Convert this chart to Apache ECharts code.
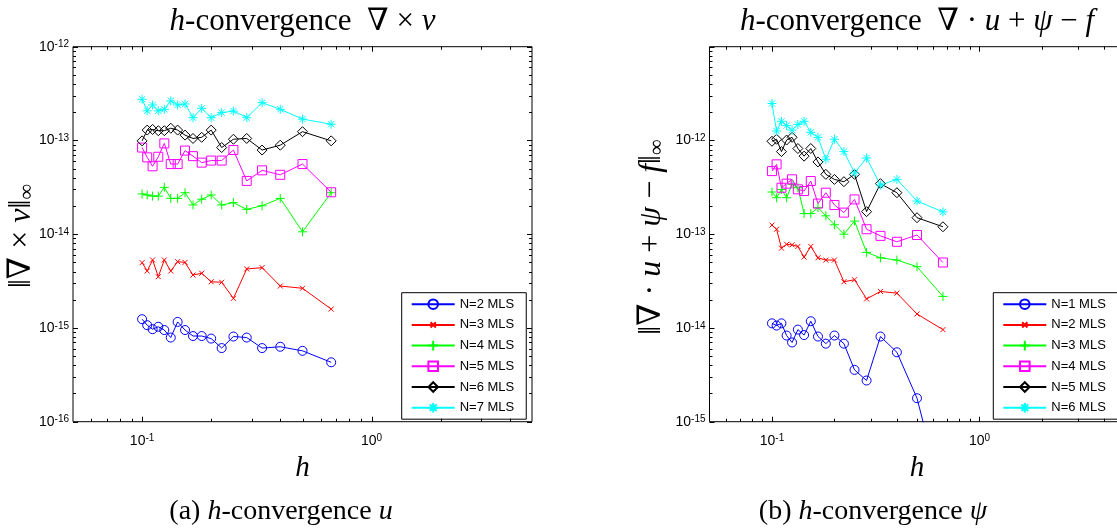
<!DOCTYPE html>
<html>
<head>
<meta charset="utf-8">
<script src="https://cdn.jsdelivr.net/npm/echarts/dist/echarts.min.js"></script>
<style>
  html, body { margin: 0; padding: 0; width: 1117px; height: 531px; overflow: hidden; background: #fff; }
  #curlPanel { position: absolute; left: 0; top: 0; width: 560px; height: 531px; }
  #divPanel  { position: absolute; left: 560px; top: 0; width: 580px; height: 531px; }
</style>
</head>
<body>
<div id="curlPanel"></div>
<div id="divPanel"></div>
<script>
// Mesh sizes h (same for every curve)
const hValues = [0.1, 0.10526, 0.11111, 0.11765, 0.125, 0.13333, 0.14286, 0.15385, 0.16667,
                 0.18182, 0.2, 0.22222, 0.25, 0.28571, 0.33333, 0.4, 0.5, 0.66667];

// (a) ||curl v||_inf for N = 2..7
const curlN2 = [1.24e-15, 1.07e-15, 9.7e-16, 1.03e-15, 9.5e-16, 7.9e-16, 1.16e-15, 9.5e-16, 8.2e-16,
                8.2e-16, 7.7e-16, 6.1e-16, 8.1e-16, 7.9e-16, 6.1e-16, 6.3e-16, 5.7e-16, 4.3e-16];
const curlN3 = [4.97e-15, 4.05e-15, 5.31e-15, 3.52e-15, 5.31e-15, 4.05e-15, 5.09e-15, 5.0e-15, 3.67e-15,
                3.83e-15, 3.11e-15, 3.07e-15, 2.07e-15, 4.26e-15, 4.40e-15, 2.80e-15, 2.65e-15, 1.59e-15];
const curlN4 = [2.69e-14, 2.62e-14, 2.55e-14, 2.55e-14, 3.16e-14, 2.41e-14, 2.41e-14, 2.77e-14, 2.05e-14,
                2.36e-14, 2.62e-14, 2.05e-14, 2.17e-14, 1.84e-14, 2.01e-14, 2.41e-14, 1.06e-14, 2.77e-14];
const curlN5 = [8.4e-14, 6.6e-14, 5.3e-14, 6.7e-14, 9.3e-14, 5.6e-14, 5.6e-14, 7.8e-14, 6.8e-14,
                5.8e-14, 6.1e-14, 6.1e-14, 7.9e-14, 3.7e-14, 4.8e-14, 4.3e-14, 5.6e-14, 2.8e-14];
const curlN6 = [9.9e-14, 1.29e-13, 1.31e-13, 1.27e-13, 1.27e-13, 1.35e-13, 1.29e-13, 1.14e-13, 1.05e-13,
                1.08e-13, 1.29e-13, 8.4e-14, 1.03e-13, 1.05e-13, 7.9e-14, 8.9e-14, 1.24e-13, 9.9e-14];
const curlN7 = [2.75e-13, 2.07e-13, 2.39e-13, 2.07e-13, 2.15e-13, 2.64e-13, 2.39e-13, 2.45e-13, 1.75e-13,
                2.20e-13, 1.75e-13, 1.98e-13, 2.06e-13, 1.75e-13, 2.53e-13, 2.15e-13, 1.69e-13, 1.49e-13];

// (b) ||div u + psi - f||_inf for N = 1..6
const divN1 = [1.12e-14, 1.06e-14, 1.12e-14, 8.3e-15, 7.0e-15, 9.6e-15, 8.4e-15, 1.18e-14, 8.1e-15,
               6.8e-15, 8.3e-15, 6.8e-15, 3.57e-15, 2.75e-15, 8.1e-15, 5.5e-15, 1.78e-15, 1.5e-16];
const divN2 = [1.25e-13, 1.13e-13, 7.1e-14, 7.8e-14, 7.7e-14, 7.4e-14, 5.7e-14, 7.4e-14, 5.6e-14,
               5.3e-14, 5.3e-14, 3.11e-14, 3.27e-14, 2.04e-14, 2.45e-14, 2.35e-14, 1.41e-14, 9.6e-15];
const divN3 = [2.82e-13, 2.45e-13, 3.0e-13, 2.45e-13, 3.4e-13, 3.13e-13, 1.66e-13, 1.66e-13, 1.92e-13,
               1.57e-13, 1.26e-13, 1.0e-13, 1.38e-13, 6.4e-14, 5.6e-14, 5.3e-14, 4.5e-14, 2.17e-14];
const divN4 = [4.71e-13, 5.56e-13, 3.13e-13, 3.46e-13, 3.85e-13, 3.01e-13, 2.89e-13, 3.69e-13, 2.12e-13,
               2.77e-13, 2.05e-13, 1.70e-13, 2.35e-13, 1.13e-13, 9.6e-14, 8.3e-14, 9.8e-14, 4.99e-14];
const divN5 = [9.8e-13, 1.03e-12, 7.6e-13, 1.01e-12, 1.08e-12, 8.2e-13, 6.8e-13, 8.2e-13, 5.9e-13,
               4.35e-13, 3.84e-13, 3.63e-13, 4.35e-13, 1.74e-13, 3.46e-13, 2.77e-13, 1.50e-13, 1.2e-13];
const divN6 = [2.48e-12, 1.26e-12, 1.60e-12, 1.44e-12, 1.29e-12, 1.48e-12, 1.60e-12, 1.22e-12, 1.08e-12,
               6.3e-13, 1.03e-12, 7.6e-13, 4.5e-13, 6.5e-13, 3.34e-13, 3.84e-13, 2.26e-13, 1.73e-13];

// Legend entries
const curlNames = ['N=2 MLS', 'N=3 MLS', 'N=4 MLS', 'N=5 MLS', 'N=6 MLS', 'N=7 MLS'];
const divNames  = ['N=1 MLS', 'N=2 MLS', 'N=3 MLS', 'N=4 MLS', 'N=5 MLS', 'N=6 MLS'];

// Axis ranges and tick positions
const xRange = [0.05, 5];
const curlYRange = [1e-16, 1e-12];
const divYRange = [1e-15, 1e-11];
const xMajorTicks = [0.1, 1];
const xMinorTicks = [0.06, 0.07, 0.08, 0.09, 0.2, 0.3, 0.4, 0.5, 0.6, 0.7, 0.8, 0.9, 2, 3, 4];

// Matlab-style line/marker specs: o, x, +, square, diamond, *
const styles = [
  { color: '#0000ff', symbol: 'circle', size: 9 },
  { color: '#ff0000', symbol: 'path://M-0.4,-0.4L-0.4,-0.4M1.4,1.4L1.4,1.4M0,0L1,1M1,0L0,1', size: 9 },
  { color: '#00ff00', symbol: 'path://M0.5,0L0.5,1M0,0.5L1,0.5', size: 9 },
  { color: '#ff00ff', symbol: 'path://M0,0L1,0L1,1L0,1Z', size: 9 },
  { color: '#000000', symbol: 'path://M0.5,0L1,0.5L0.5,1L0,0.5Z', size: 10 },
  { color: '#00ffff', symbol: 'path://M0.5,0L0.5,1M0,0.5L1,0.5M0.15,0.15L0.85,0.85M0.85,0.15L0.15,0.85', size: 9 }
];

const SANS = "'Liberation Sans', Arial, Helvetica, sans-serif";
const SERIF = "'Liberation Serif', 'DejaVu Serif', serif";

function decadeTicks(range) {
  const major = [], minor = [];
  const lo = Math.round(Math.log10(range[0])), hi = Math.round(Math.log10(range[1]));
  for (let e = lo; e <= hi; e++) {
    major.push(Math.pow(10, e));
    if (e < hi) for (let m = 2; m <= 9; m++) minor.push(m * Math.pow(10, e));
  }
  return { major, minor };
}

function powerLabel(hidden) {
  return function (v) {
    const e = Math.log10(v), r = Math.round(e);
    if (Math.abs(e - r) > 1e-6 || hidden.indexOf(r) >= 0) return '';
    return '{b|10}{s|' + r + '}';
  };
}
const powerRich = {
  b: { fontFamily: SANS, fontSize: 14, color: '#000', lineHeight: 14, padding: [7, 0, 0, 0], verticalAlign: 'bottom' },
  s: { fontFamily: SANS, fontSize: 10, color: '#000', lineHeight: 10, verticalAlign: 'top' }
};

function tickSeries(yRange) {
  const yt = decadeTicks(yRange);
  const xData = xMajorTicks.map(v => [v, yRange[0], 1]).concat(xMinorTicks.map(v => [v, yRange[0], 0]));
  const yData = yt.major.map(v => [xRange[0], v, 1]).concat(yt.minor.map(v => [xRange[0], v, 0]));
  const line = (x1, y1, x2, y2) => ({ type: 'line', shape: { x1, y1, x2, y2 }, style: { stroke: '#000', lineWidth: 1 } });
  return [
    {
      type: 'custom', silent: true, z: 5, clip: false, data: xData,
      renderItem: (p, api) => {
        const v = api.value(0), len = api.value(2) ? 5 : 3;
        const b = api.coord([v, yRange[0]]), t = api.coord([v, yRange[1]]);
        const x = Math.round(b[0]) + 0.5;
        return { type: 'group', children: [line(x, b[1], x, b[1] - len), line(x, t[1], x, t[1] + len)] };
      }
    },
    {
      type: 'custom', silent: true, z: 5, clip: false, data: yData,
      renderItem: (p, api) => {
        const v = api.value(1), len = api.value(2) ? 5 : 3;
        const l = api.coord([xRange[0], v]), r = api.coord([xRange[1], v]);
        const y = Math.round(l[1]) + 0.5;
        return { type: 'group', children: [line(l[0], y, l[0] + len, y), line(r[0], y, r[0] - len, y)] };
      }
    }
  ];
}

function lineSeries(names, arrays) {
  return arrays.map((vals, i) => ({
    type: 'line', name: names[i],
    data: hValues.map((h, k) => [h, vals[k]]),
    symbol: styles[i].symbol, symbolSize: styles[i].size,
    lineStyle: { color: styles[i].color, width: 1 },
    itemStyle: { color: 'rgba(0,0,0,0)', borderColor: styles[i].color, borderWidth: 1 },
    emphasis: { disabled: true }, clip: true, z: 3
  }));
}

function makeOption(cfg) {
  return {
    animation: false,
    grid: { left: cfg.gridLeft, top: 46.7, width: cfg.gridWidth, height: 375, show: true,
            borderColor: '#000', borderWidth: 1, backgroundColor: '#fff' },
    xAxis: {
      type: 'log', logBase: 10, min: xRange[0], max: xRange[1],
      axisLine: { show: false }, axisTick: { show: false }, splitLine: { show: false },
      axisLabel: { formatter: powerLabel([]), rich: powerRich, margin: 12, showMinLabel: false, showMaxLabel: false }
    },
    yAxis: {
      type: 'log', logBase: 10, min: cfg.yRange[0], max: cfg.yRange[1],
      axisLine: { show: false }, axisTick: { show: false }, splitLine: { show: false },
      axisLabel: { formatter: powerLabel(cfg.hiddenY), rich: powerRich, margin: 4 }
    },
    legend: {
      orient: 'vertical', left: cfg.legendLeft, top: 292.7,
      itemWidth: 43, itemHeight: 12, itemGap: 7.7,
      padding: [5, 12, 5, 9], backgroundColor: '#fff', borderColor: '#000', borderWidth: 1,
      textStyle: { fontFamily: SANS, fontSize: 13, color: '#000' },
      selectedMode: false, data: cfg.names
    },
    graphic: cfg.texts,
    series: lineSeries(cfg.names, cfg.values).concat(tickSeries(cfg.yRange))
  };
}

const serifRich = (size) => ({
  n: { fontFamily: SERIF, fontSize: size, color: '#000' },
  i: { fontFamily: SERIF, fontSize: size, fontStyle: 'italic', color: '#000' },
  sub: { fontFamily: SERIF, fontSize: Math.round(size * 0.7), color: '#000', verticalAlign: 'bottom' }
});

function textEl(x, y, text, size, rotation) {
  return { type: 'text', x: x, y: y, rotation: rotation || 0, silent: true,
           style: { text: text, rich: serifRich(size), align: 'center', verticalAlign: 'middle', fill: '#000' } };
}

const curlChart = echarts.init(document.getElementById('curlPanel'), null, { renderer: 'canvas' });
curlChart.setOption(makeOption({
  gridLeft: 73, gridWidth: 459, yRange: curlYRange, hiddenY: [], legendLeft: 401.7,
  names: curlNames, values: [curlN2, curlN3, curlN4, curlN5, curlN6, curlN7],
  texts: [
    textEl(302.5, 22, '{i|h}{n|-convergence  ∇ × }{i|v}', 31),
    textEl(22, 236, '{n|‖∇ × }{i|v}{n|‖}{sub|∞}', 32, Math.PI / 2),
    textEl(302.5, 468, '{i|h}', 29),
    textEl(281, 512, '{n|(a) }{i|h}{n|-convergence }{i|u}', 28)
  ]
}));

const divChart = echarts.init(document.getElementById('divPanel'), null, { renderer: 'canvas' });
divChart.setOption(makeOption({
  gridLeft: 149.5, gridWidth: 415, yRange: divYRange, hiddenY: [-11], legendLeft: 433.3,
  names: divNames, values: [divN1, divN2, divN3, divN4, divN5, divN6],
  texts: [
    textEl(357, 22, '{i|h}{n|-convergence  ∇ · }{i|u}{n| + }{i|ψ}{n| − }{i|f}', 31),
    textEl(92, 237, '{n|‖∇ · }{i|u}{n| + }{i|ψ}{n| − }{i|f}{n|‖}{sub|∞}', 32, Math.PI / 2),
    textEl(357, 468, '{i|h}', 29),
    textEl(313, 512, '{n|(b) }{i|h}{n|-convergence }{i|ψ}', 28)
  ]
}));
</script>
</body>
</html>
